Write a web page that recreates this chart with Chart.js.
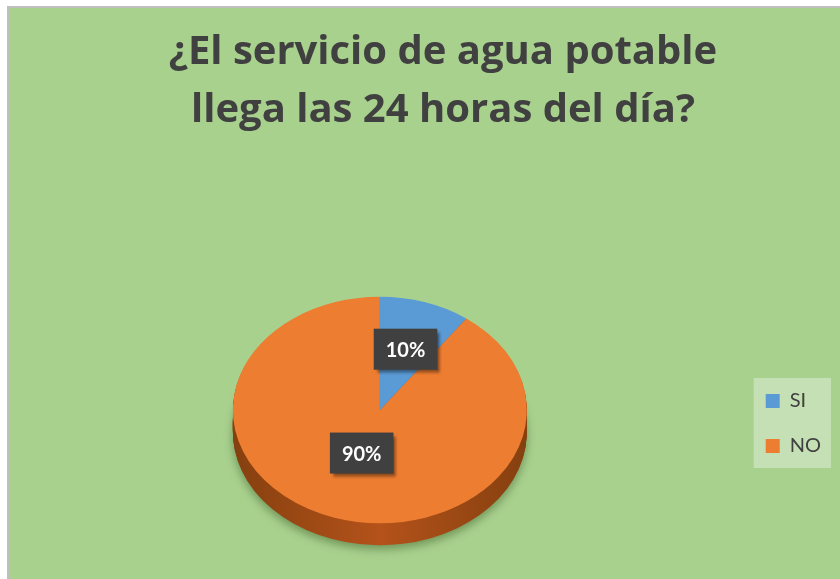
<!DOCTYPE html>
<html>
<head>
<meta charset="utf-8">
<title>Servicio de agua potable</title>
<script src="https://cdn.jsdelivr.net/npm/chart.js"></script>
<style>
    html, body { margin: 0; background: #fff; overflow: hidden; }
    .frame {
        position: absolute; left: 7px; top: 6px;
        width: 870px; height: 573px;
        border-left: 2px solid #bfbfbf; border-top: 2px solid #bfbfbf;
        background: #a9d18e; box-sizing: border-box;
    }
    canvas { display: block; }
</style>
</head>
<body>
<div class="frame"><canvas id="pieChart" width="868" height="571"></canvas></div>
<script>
const categories = ['SI', 'NO'];
const values = [10, 90];
const titleLines = ['¿El servicio de agua potable', 'llega las 24 horas del día?'];

const topColors = ['#5b9bd5', '#ed7d31'];
const sideColors = ['#2f6aa3', '#b4521a'];
const tilt = 0.77;
const depth = 22;
const labelRadius = [0.565, 0.40];

// fake 3D: squash the pie and stack a darker copy underneath
const pie3d = {
    id: 'pie3d',
    afterLayout(chart) {
        // title is centred over the whole frame, not just left of the legend
        chart.titleBlock.left = 0;
        chart.titleBlock.right = chart.width;
    },
    beforeDraw(chart) {
        // light box behind the legend
        const lg = chart.legend;
        if (!lg || !lg.legendHitBoxes.length) return;
        const hb = lg.legendHitBoxes;
        const l = Math.min(...hb.map(h => h.left)) - 12;
        const r = Math.max(...hb.map(h => h.left + h.width)) + 10;
        const t = Math.min(...hb.map(h => h.top)) - 13;
        const b = Math.max(...hb.map(h => h.top + h.height)) + 12;
        const ctx = chart.ctx;
        ctx.save();
        ctx.fillStyle = '#c5e0b4';
        ctx.fillRect(l, t, r - l, b - t);
        ctx.restore();
    },
    beforeDatasetsDraw(chart) {
        const ctx = chart.ctx;
        const arcs = chart.getDatasetMeta(0).data;
        const cx = arcs[0].x, cy = arcs[0].y;
        const rad = arcs[0].outerRadius;
        for (let d = depth; d >= 1; d--) {
            ctx.save();
            ctx.translate(cx, cy + d);
            ctx.scale(1, tilt);
            if (d === depth) {
                ctx.shadowColor = 'rgba(40,70,20,0.45)';
                ctx.shadowBlur = 10;
                ctx.shadowOffsetY = 4;
            }
            arcs.forEach((arc, i) => {
                const g = ctx.createLinearGradient(-rad, 0, rad, 0);
                g.addColorStop(0, '#85400f');
                g.addColorStop(0.5, sideColors[i]);
                g.addColorStop(1, '#85400f');
                ctx.beginPath();
                ctx.moveTo(0, 0);
                ctx.arc(0, 0, arc.outerRadius, arc.startAngle, arc.endAngle);
                ctx.closePath();
                ctx.fillStyle = i === 1 ? g : sideColors[i];
                ctx.fill();
            });
            ctx.restore();
        }
        ctx.save();
        ctx.translate(cx, cy);
        ctx.scale(1, tilt);
        ctx.translate(-cx, -cy);
    },
    afterDatasetsDraw(chart) {
        const ctx = chart.ctx;
        ctx.restore();
        const arcs = chart.getDatasetMeta(0).data;
        const total = values.reduce((a, b) => a + b, 0);
        ctx.save();
        ctx.font = 'bold 20px Lato';
        ctx.textAlign = 'center';
        ctx.textBaseline = 'middle';
        arcs.forEach((arc, i) => {
            const mid = (arc.startAngle + arc.endAngle) / 2;
            const f = labelRadius[i] * arc.outerRadius;
            const x = arc.x + Math.cos(mid) * f;
            const y = arc.y + Math.sin(mid) * f * tilt;
            const txt = Math.round(values[i] / total * 100) + '%';
            const w = ctx.measureText(txt).width + 24;
            const h = 41;
            ctx.save();
            ctx.shadowColor = 'rgba(0,0,0,0.45)';
            ctx.shadowOffsetX = 3;
            ctx.shadowOffsetY = 3;
            ctx.shadowBlur = 3;
            ctx.fillStyle = '#404040';
            ctx.fillRect(x - w / 2, y - h / 2, w, h);
            ctx.restore();
            ctx.fillStyle = '#ffffff';
            ctx.fillText(txt, x, y + 1);
        });
        ctx.restore();
    }
};

new Chart(document.getElementById('pieChart'), {
    type: 'pie',
    data: {
        labels: categories,
        datasets: [{
            data: values,
            backgroundColor: topColors,
            borderWidth: 0
        }]
    },
    options: {
        responsive: false,
        animation: false,
        layout: { padding: { left: 10, right: 46, top: 0, bottom: 22 } },
        plugins: {
            title: {
                display: true,
                text: titleLines,
                color: '#404040',
                font: { family: 'Open Sans', size: 40, weight: 'bold', lineHeight: 1.45 },
                padding: { top: 16, bottom: 123 }
            },
            legend: {
                position: 'right',
                fullSize: false,
                title: { display: true, text: '', font: { size: 10, lineHeight: 1 }, padding: { top: 17, bottom: 0 } },
                labels: {
                    boxWidth: 14,
                    boxHeight: 14,
                    padding: 25,
                    color: '#404040',
                    font: { family: 'Lato', size: 20 }
                }
            },
            tooltip: { enabled: false }
        }
    },
    plugins: [pie3d]
});
</script>
</body>
</html>
